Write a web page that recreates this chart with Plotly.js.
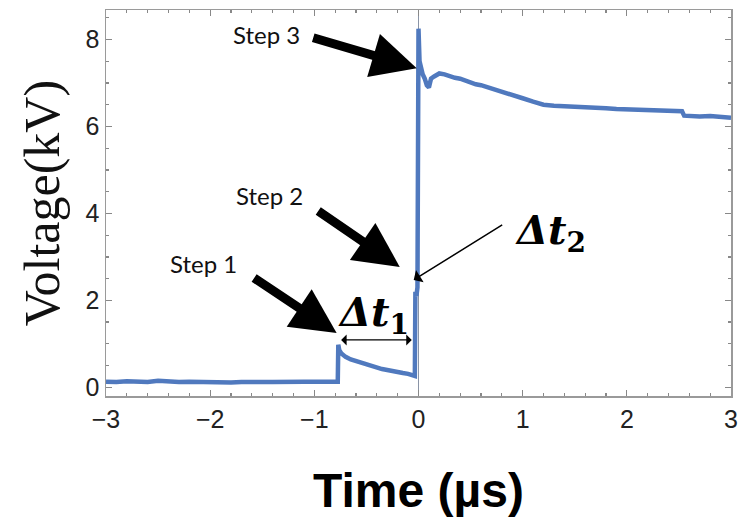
<!DOCTYPE html>
<html>
<head>
<meta charset="utf-8">
<script src="https://cdn.plot.ly/plotly-3.0.1.min.js"></script>
<style>html,body{margin:0;padding:0;background:#fff;}#chart{width:742px;height:518px;}</style>
</head>
<body>
<div id="chart"></div>
<script>
// Time in microseconds, voltage in kV
var timeUs = [
  -3.0, -2.9, -2.8, -2.7, -2.6, -2.5, -2.4, -2.3, -2.2, -2.1, -2.0, -1.9, -1.8, -1.7, -1.6, -1.5,
  -1.4, -1.3, -1.2, -1.1, -1.0, -0.9, -0.8, -0.775,
  -0.77, -0.76, -0.74, -0.72, -0.70, -0.65, -0.60, -0.55, -0.50, -0.45, -0.40, -0.35, -0.30,
  -0.25, -0.20, -0.15, -0.10, -0.06, -0.035,
  -0.03, -0.02, -0.01, 0.0, 0.01, 0.025, 0.04, 0.06, 0.08, 0.10, 0.12, 0.15, 0.20, 0.25, 0.30,
  0.35, 0.40, 0.45, 0.50, 0.55, 0.60, 0.70, 0.80, 0.90, 1.00, 1.10, 1.20, 1.30, 1.40, 1.50,
  1.60, 1.70, 1.80, 1.90, 2.00, 2.10, 2.20, 2.30, 2.40, 2.50, 2.53, 2.55, 2.60, 2.70, 2.80, 2.90, 3.00
];
var voltageKV = [
  0.13, 0.12, 0.14, 0.13, 0.12, 0.15, 0.13, 0.12, 0.13, 0.12, 0.13, 0.12, 0.11, 0.12, 0.13, 0.12,
  0.12, 0.13, 0.14, 0.13, 0.13, 0.14, 0.13, 0.13,
  0.98, 0.85, 0.78, 0.74, 0.70, 0.64, 0.60, 0.56, 0.52, 0.49, 0.46, 0.42, 0.40,
  0.37, 0.35, 0.33, 0.31, 0.29, 0.26,
  2.20, 2.10, 2.30, 8.25, 7.50, 7.30, 7.20, 7.10, 6.95, 6.90, 7.10, 7.15, 7.22, 7.20, 7.15,
  7.12, 7.10, 7.05, 7.00, 6.97, 6.95, 6.88, 6.80, 6.72, 6.65, 6.57, 6.50, 6.48, 6.47, 6.47,
  6.45, 6.43, 6.42, 6.40, 6.39, 6.38, 6.36, 6.35, 6.34, 6.33, 6.35, 6.25, 6.24, 6.23, 6.24, 6.22, 6.20
];
var xTickVals = [-3, -2, -1, 0, 1, 2, 3];
var yTickVals = [0, 2, 4, 6, 8];

var stepLabels = ["Step 1", "Step 2", "Step 3"];
var stepLabelX = [-2.06, -1.43, -1.46];
var stepLabelY = [2.84, 4.42, 8.12];
var stepTipX = [-0.786, -0.18, -0.017];
var stepTipY = [1.25, 2.77, 7.34];
var stepTail = [[-84, -56], [-83, -57], [-105, -31]];

var frameColor = "#9a9a9a";

var trace = {
  x: timeUs, y: voltageKV, type: "scatter", mode: "lines",
  line: {color: "#5079be", width: 4.5}, hoverinfo: "skip", showlegend: false
};

var annotations = [];
for (var i = 0; i < stepLabels.length; i++) {
  annotations.push({
    x: stepLabelX[i], y: stepLabelY[i], xref: "x", yref: "y", text: stepLabels[i],
    showarrow: false, font: {family: "Lato", size: 24, color: "#111"}
  });
  annotations.push({
    x: stepTipX[i], y: stepTipY[i], xref: "x", yref: "y", text: "",
    showarrow: true, ax: stepTail[i][0], ay: stepTail[i][1],
    arrowhead: 2, arrowsize: 1.0, arrowwidth: 9, arrowcolor: "#000"
  });
}
// Δt1 double arrow
annotations.push({
  x: -0.065, y: 1.09, ax: -0.757, ay: 1.09, xref: "x", yref: "y", axref: "x", ayref: "y",
  text: "", showarrow: true, arrowside: "end+start", arrowhead: 1, startarrowhead: 1,
  arrowsize: 1.4, startarrowsize: 1.4, arrowwidth: 1.3, arrowcolor: "#000"
});
annotations.push({
  x: -0.43, y: 1.68, xref: "x", yref: "y", showarrow: false,
  text: "<b><i>Δt</i><sub>1</sub></b>",
  font: {family: "DejaVu Serif", size: 40, color: "#000"}
});
// Δt2 thin arrow
annotations.push({
  x: -0.046, y: 2.47, xref: "x", yref: "y", text: "", showarrow: true,
  ax: 90, ay: -56, arrowhead: 1, arrowsize: 1.6, arrowwidth: 1.5, arrowcolor: "#000"
});
annotations.push({
  x: 1.27, y: 3.55, xref: "x", yref: "y", showarrow: false,
  text: "<b><i>Δt</i><sub>2</sub></b>",
  font: {family: "DejaVu Serif", size: 40, color: "#000"}
});

var layout = {
  width: 742, height: 518,
  margin: {l: 106, r: 11, t: 10, b: 122},
  paper_bgcolor: "#fff", plot_bgcolor: "#fff",
  showlegend: false,
  font: {family: "Liberation Sans", size: 24, color: "#222"},
  xaxis: {
    range: [-3, 3], tickmode: "array", tickvals: xTickVals, ticks: "inside", ticklen: 6, tickwidth: 1.3,
    tickcolor: "#888", tickfont: {family: "Liberation Sans", size: 25, color: "#222"}, showgrid: false,
    showline: true, linecolor: frameColor, linewidth: 1.5, mirror: "allticks",
    zeroline: true, zerolinecolor: "#8a94a6", zerolinewidth: 1.5,
    minor: {dtick: 0.2, ticks: "inside", ticklen: 3, tickcolor: "#888", showgrid: false},
    title: {text: "Time (µs)", font: {family: "Liberation Sans", size: 48, color: "#000", weight: "bold"}, standoff: 42}
  },
  yaxis: {
    range: [-0.2, 8.68], tickmode: "array", tickvals: yTickVals, ticks: "inside", ticklen: 6, tickwidth: 1.3,
    tickcolor: "#888", tickfont: {family: "Liberation Sans", size: 25, color: "#222"}, showgrid: false,
    showline: true, linecolor: frameColor, linewidth: 1.5, mirror: "allticks",
    zeroline: false,
    minor: {dtick: 0.5, ticks: "inside", ticklen: 3, tickcolor: "#888", showgrid: false},
    title: {text: "Voltage(kV)", font: {family: "Liberation Serif", size: 50, color: "#111"}, standoff: 10}
  },
  annotations: annotations
};

Plotly.newPlot("chart", [trace], layout, {staticPlot: true, displayModeBar: false});
</script>
</body>
</html>
